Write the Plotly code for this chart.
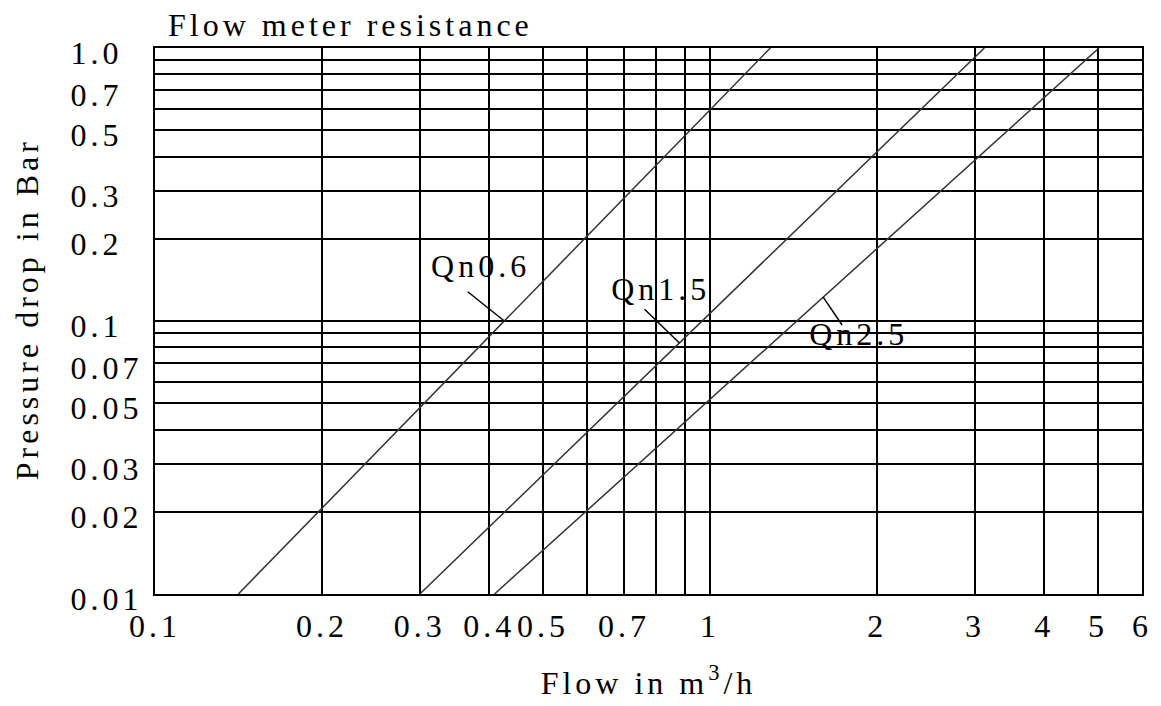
import numpy as np
import plotly.graph_objects as go

# ---------------- data ----------------
series_names = ["Qn0.6", "Qn1.5", "Qn2.5"]

qn06_flow = [0.1413, 1.284]
qn06_dp = [0.01, 1.0]
qn15_flow = [0.30, 3.12]
qn15_dp = [0.01, 1.0]
qn25_flow = [0.409, 5.02]
qn25_dp = [0.01, 1.0]

# labelled ticks
x_tick_vals = [0.1, 0.2, 0.3, 0.4, 0.5, 0.7, 1, 2, 3, 4, 5, 6]
x_tick_text = ["0.1", "0.2", "0.3", "0.4", "0.5", "0.7", "1", "2", "3", "4", "5", "6"]
y_tick_vals = [0.01, 0.02, 0.03, 0.05, 0.07, 0.1, 0.2, 0.3, 0.5, 0.7, 1.0]
y_tick_text = ["0.01", "0.02", "0.03", "0.05", "0.07", "0.1", "0.2", "0.3", "0.5", "0.7", "1.0"]
# unlabelled grid lines
x_minor_vals = [0.6, 0.8, 0.9]
y_minor_vals = [0.04, 0.06, 0.08, 0.09, 0.4, 0.6, 0.8, 0.9]

# series label placement (data coordinates)
label_flow = [0.386, 0.815, 1.853]
label_dp = [0.1547, 0.1274, 0.0872]
leader_start_flow = [0.366, 0.762, 1.729]
leader_start_dp = [0.128, 0.1104, 0.0967]
leader_end_dp = [0.1, 0.0831, 0.1223]

title_text = "Flow meter resistance"
x_title = "Flow in m<sup>3</sup>/h"
y_title = "Pressure drop in Bar"

# ---------------- figure ----------------
FONT = "Liberation Serif, Times New Roman, serif"
W, H = 1161, 706
L, T, R, B = 155, 48, 11, 102
series = [(qn06_flow, qn06_dp), (qn15_flow, qn15_dp), (qn25_flow, qn25_dp)]

fig = go.Figure()
for name, (fx, fy) in zip(series_names, series):
    fig.add_trace(go.Scatter(x=fx, y=fy, mode="lines", name=name,
                             line=dict(color="#333333", width=1.5),
                             hoverinfo="skip", showlegend=False))


def flow_on_curve(fx, fy, dp):
    lx0, lx1 = np.log10(fx)
    ly0, ly1 = np.log10(fy)
    return 10 ** (lx0 + (np.log10(dp) - ly0) * (lx1 - lx0) / (ly1 - ly0))


for i, (fx, fy) in enumerate(series):
    end_flow = flow_on_curve(fx, fy, leader_end_dp[i])
    fig.add_trace(go.Scatter(x=[leader_start_flow[i], end_flow],
                             y=[leader_start_dp[i], leader_end_dp[i]],
                             mode="lines", line=dict(color="black", width=1.5),
                             hoverinfo="skip", showlegend=False))

fig.add_trace(go.Scatter(x=label_flow, y=label_dp, mode="text",
                         text=series_names, textposition="middle center",
                         textfont=dict(family=FONT, size=32, color="black"),
                         hoverinfo="skip", showlegend=False))

# pad y labels with figure spaces so they line up on the left like the reference
y_tick_text_padded = [t + "\u2007" * (4 - len(t)) for t in y_tick_text]

plot_w = W - L - R
plot_h = H - T - B
fig.update_layout(
    width=W, height=H,
    margin=dict(l=L, r=R, t=T, b=B),
    paper_bgcolor="white", plot_bgcolor="white",
    font=dict(family=FONT, size=32, color="black"),
    showlegend=False,
    title=dict(text=title_text, x=168 / W, xanchor="left",
               y=1 - 25 / H, yanchor="middle",
               font=dict(family=FONT, size=32, color="black")),
    annotations=[dict(text=y_title, textangle=-90, showarrow=False,
                      xref="paper", yref="paper",
                      x=(26 - L) / plot_w, y=1 - (314 - T) / plot_h,
                      xanchor="center", yanchor="middle",
                      font=dict(family=FONT, size=32, color="black"))],
)
grid = dict(showgrid=True, gridcolor="#000000", gridwidth=1.8)
fig.update_xaxes(
    type="log", range=[-1, np.log10(6)],
    tickmode="array", tickvals=x_tick_vals, ticktext=x_tick_text,
    tickangle=0, ticks="", ticklabelstandoff=3,
    minor=dict(tickmode="array", tickvals=x_minor_vals, ticks="", **grid),
    showline=True, linecolor="#000000", linewidth=2, mirror=True,
    zeroline=False, **grid,
    title=dict(text=x_title, standoff=28,
               font=dict(family=FONT, size=32, color="black")),
)
fig.update_yaxes(
    type="log", range=[-2, 0],
    tickmode="array", tickvals=y_tick_vals, ticktext=y_tick_text_padded,
    ticks="", ticklabelstandoff=4, ticklabelshift=5,
    minor=dict(tickmode="array", tickvals=y_minor_vals, ticks="", **grid),
    showline=True, linecolor="#000000", linewidth=2, mirror=True,
    zeroline=False, **grid,
)

post = ("document.documentElement.style.margin='0';"
        "document.body.style.margin='0';"
        "document.body.style.overflow='hidden';"
        "var gd=document.getElementById('{plot_id}');"
        "gd.querySelectorAll('text').forEach(function(t){t.style.letterSpacing='4px';});")
fig.write_html("out.html", post_script=post, config={"displayModeBar": False})
